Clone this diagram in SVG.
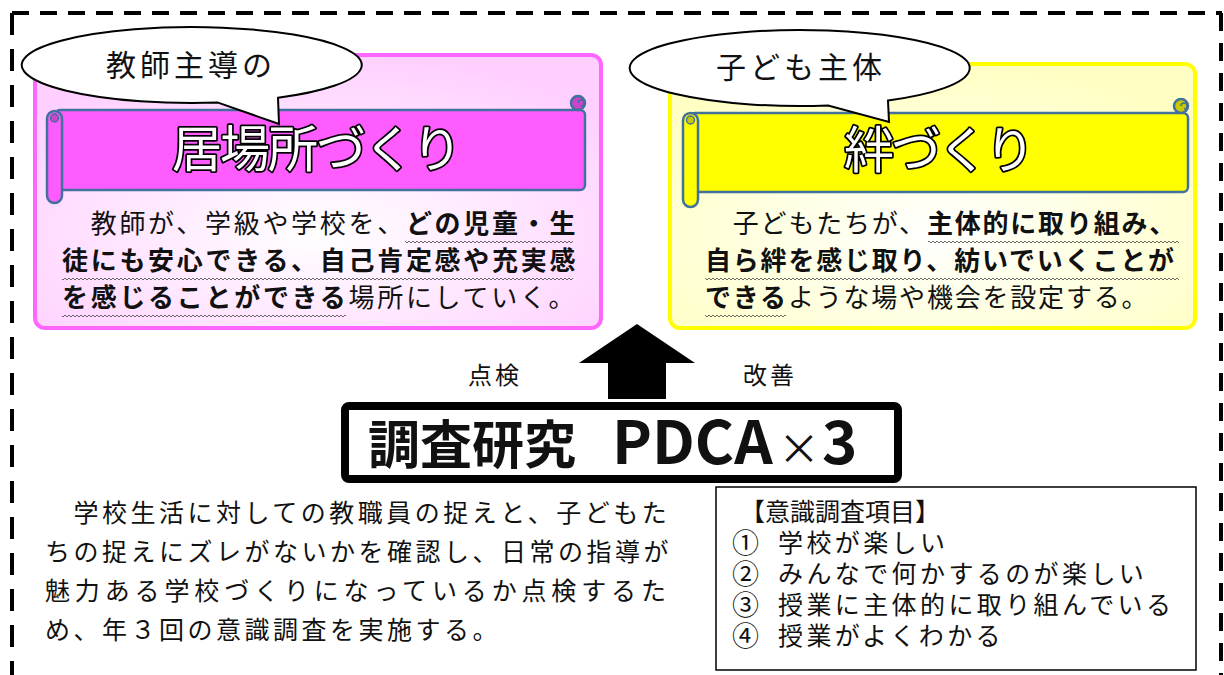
<svg xmlns="http://www.w3.org/2000/svg" width="1224" height="675" viewBox="0 0 1224 675">
<defs>
<radialGradient id="gPink" cx="0.5" cy="0.65" r="0.65">
<stop offset="0" stop-color="#ffffff"/>
<stop offset="1" stop-color="#ffd0ff"/>
</radialGradient>
<radialGradient id="gYellow" cx="0.5" cy="0.65" r="0.65">
<stop offset="0" stop-color="#ffffff"/>
<stop offset="1" stop-color="#ffffc4"/>
</radialGradient>
<pattern id="wave" x="0" y="0" width="4" height="4" patternUnits="userSpaceOnUse">
<path d="M0,2 L1,1 L3,3 L4,2" fill="none" stroke="#444" stroke-width="0.8"/>
</pattern>
</defs>
<style>
text { font-family: "Noto Sans CJK JP", "Noto Sans", sans-serif; fill: #111; }
.bub { fill: #fff; stroke: #000; stroke-width: 2; }
.ban { stroke: #41719c; stroke-width: 2.5; }
.title { font-size: 50px; fill: #fff; stroke: #000; stroke-width: 3.5; paint-order: stroke; stroke-linejoin: round; }
.body { font-size: 26px; }
.b { font-weight: bold; }
.lead { font-size: 25px; }
.num { font-size: 27px; letter-spacing: 0; }
.item { font-size: 25px; letter-spacing: 3.4px; }
.lbl { font-size: 24px; letter-spacing: 3px; }
.dash { stroke: #000; stroke-width: 4; fill: none; }
</style>

<g id="border">
<line class="dash" x1="12" y1="13" x2="1222" y2="13" stroke-dasharray="17 11"/>
<line class="dash" x1="12" y1="13" x2="12" y2="675" stroke-dasharray="22 14"/>
<line class="dash" x1="1221" y1="13" x2="1221" y2="675" stroke-dasharray="18 12" stroke-width="5"/>
</g>

<g id="node-ibasho">
<rect x="35" y="55" width="566" height="273" rx="10" fill="url(#gPink)" stroke="#ff66ff" stroke-width="4"/>
<rect class="ban" x="55" y="110" width="530" height="80" rx="5" fill="#ff5cff"/>
<circle class="ban" cx="578" cy="103" r="7" fill="#cc44cc"/>
<path d="M578,103 a3,3 0 1 1 3,3" fill="none" stroke="#41719c" stroke-width="1.5"/>
<rect class="ban" x="47" y="111" width="15" height="92" rx="7.5" fill="#ff5cff"/>
<circle cx="54.5" cy="118" r="4" fill="#cc44cc" stroke="#41719c" stroke-width="1.5"/>
<path class="bub" d="M218,102.6 L279,124 L278,97.8 A170,38 0 1 0 218,102.6 Z"/>
<text x="106" y="76" font-size="30" letter-spacing="4">教師主導の</text>
<text class="title" x="316" y="167" text-anchor="middle" letter-spacing="-2">居場所づくり</text>
<text class="body" x="62" y="233" letter-spacing="2.7">　教師が、学級や学校を、<tspan class="b">どの児童・生</tspan></text>
<text class="body b" x="62" y="270" letter-spacing="2.7">徒にも安心できる、自己肯定感や充実感</text>
<text class="body" x="62" y="307" letter-spacing="2.7"><tspan class="b">を感じることができる</tspan>場所にしていく。</text>
<g transform="translate(0,240)"><rect x="405" y="0" width="168" height="4" fill="url(#wave)"/></g>
<g transform="translate(0,277)"><rect x="62" y="0" width="511" height="4" fill="url(#wave)"/></g>
<g transform="translate(0,314)"><rect x="62" y="0" width="284" height="4" fill="url(#wave)"/></g>
</g>

<g id="node-kizuna">
<rect x="670" y="64" width="525" height="264" rx="10" fill="url(#gYellow)" stroke="#ffff00" stroke-width="4"/>
<rect class="ban" x="690" y="113" width="498" height="79" rx="5" fill="#ffff00"/>
<circle class="ban" cx="1181" cy="106" r="7" fill="#c8c800"/>
<path d="M1181,106 a3,3 0 1 1 3,3" fill="none" stroke="#41719c" stroke-width="1.5"/>
<rect class="ban" x="683" y="113" width="15" height="94" rx="7.5" fill="#ffff00"/>
<circle cx="690.5" cy="120" r="4" fill="#c8c800" stroke="#41719c" stroke-width="1.5"/>
<path class="bub" d="M828,105.5 L889,122 L888,100.5 A170,38 0 1 0 828,105.5 Z"/>
<text x="716" y="78" font-size="30" letter-spacing="4">子ども主体</text>
<text class="title" x="938" y="168" text-anchor="middle" letter-spacing="-3">絆づくり</text>
<text class="body" x="705" y="233" letter-spacing="1.8">　子どもたちが、<tspan class="b">主体的に取り組み、</tspan></text>
<text class="body b" x="705" y="270" letter-spacing="1.8">自ら絆を感じ取り、紡いでいくことが</text>
<text class="body" x="705" y="307" letter-spacing="1.8"><tspan class="b">できる</tspan>ような場や機会を設定する。</text>
<g transform="translate(0,240)"><rect x="928" y="0" width="251" height="4" fill="url(#wave)"/></g>
<g transform="translate(0,277)"><rect x="705" y="0" width="474" height="4" fill="url(#wave)"/></g>
<g transform="translate(0,314)"><rect x="705" y="0" width="81" height="4" fill="url(#wave)"/></g>
</g>

<g id="connectors">
<polygon points="637,324 695,363 666,363 666,399 608,399 608,363 579,363" fill="#000"/>
</g>

<g id="labels">
<text class="lbl" x="468" y="384">点検</text>
<text class="lbl" x="743" y="384">改善</text>
</g>

<g id="node-pdca">
<rect x="345" y="406" width="553" height="73" rx="4" fill="#fff" stroke="#000" stroke-width="8"/>
<text y="464" font-size="52" font-weight="bold"><tspan x="368">調査研究 </tspan><tspan x="612" font-size="60">PDCA</tspan><tspan x="778" font-weight="normal" font-size="42">×</tspan><tspan x="822" font-size="60">3</tspan></text>
</g>

<g id="node-desc">
<text class="lead" x="45" y="522" letter-spacing="3.5">　学校生活に対しての教職員の捉えと、子どもた</text>
<text class="lead" x="45" y="561" letter-spacing="3.5">ちの捉えにズレがないかを確認し、日常の指導が</text>
<text class="lead" x="45" y="600" letter-spacing="4.86">魅力ある学校づくりになっているか点検するた</text>
<text class="lead" x="45" y="639" letter-spacing="3.5">め、年３回の意識調査を実施する。</text>
</g>

<g id="node-items">
<rect x="716" y="487" width="480" height="183" fill="#fff" stroke="#000" stroke-width="1.5"/>
<text class="item"><tspan x="740" y="521" letter-spacing="0">【意識調査項目】</tspan><tspan class="num" x="732" y="553">① </tspan><tspan x="778" y="552">学校が楽しい</tspan><tspan class="num" x="732" y="584">② </tspan><tspan x="778" y="583">みんなで何かするのが楽しい</tspan><tspan class="num" x="732" y="615">③ </tspan><tspan x="778" y="614">授業に主体的に取り組んでいる</tspan><tspan class="num" x="732" y="646">④ </tspan><tspan x="778" y="645">授業がよくわかる</tspan></text>
</g>
</svg>
